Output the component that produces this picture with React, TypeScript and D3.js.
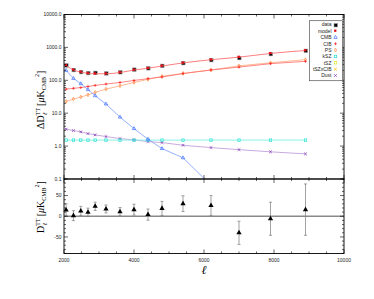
import React from 'react';
import * as d3 from 'd3';

// multipole bin centres
const ells = [2060, 2270, 2480, 2685, 2890, 3200, 3600, 4000, 4400, 4800, 5400, 6200, 7000, 7900, 8900];

// top panel, D_ell in muK^2
const dataVals = [293, 212, 184, 172, 174, 168, 182, 218, 240, 284, 344, 425, 490, 648, 815];
const modelVals = [285, 206, 178, 163, 158, 158, 172, 205, 232, 272, 338, 422, 505, 655, 805];
const cmbVals = [200, 114, 79, 52, 34, 19, 7.6, 3.4, 1.62, 0.84, 0.44, 0.065];
const cibVals = [54, 57, 60, 65, 70, 77, 86, 99, 112, 126, 160, 206, 252, 321, 377];
const psVals = [22.7, 27, 31, 36, 43, 54, 68, 86, 107, 132, 162, 206, 275, 340, 425];
const kszVals = [1.52, 1.52, 1.52, 1.52, 1.52, 1.52, 1.52, 1.52, 1.52, 1.52, 1.52, 1.52, 1.52, 1.52, 1.52];
const dustVals = [3.27, 2.97, 2.71, 2.4, 2.19, 1.95, 1.69, 1.55, 1.37, 1.28, 1.06, 0.9, 0.78, 0.67, 0.58];

// bottom panel residuals
const resVals = [15, 1.5, 12.8, 9.5, 24, 17.7, 11, 16, 4, 19, 30.5, 26, -40, -6, 16];
const resErr = [15, 12, 11, 10, 10, 9.5, 10, 13, 13.5, 17, 19, 24, 28, 40, 62];

const xTickLabels = [2000, 4000, 6000, 8000, 10000];
const yTopLabels = [0.1, 1, 10, 100, 1000, 10000];
const yBotLabels = [-50, 0, 50];
const legendNames = ['data', 'model', 'CMB', 'CIB', 'PS', 'kSZ', 'tSZ', 'tSZxCIB', 'Dust'];

const W = 374, H = 299;
const L = 64, R = 344, T = 14.5, MID = 179, B = 253.5;
const SERIF = '"Liberation Serif", "DejaVu Serif", serif';
const SANS = '"Liberation Sans", Arial, sans-serif';

const colors: Record<string, string> = {
  data: '#000000', model: '#e8101a', CMB: '#3d6fff', CIB: '#ff2a2a', PS: '#ff8a3d',
  kSZ: '#22e0d0', tSZ: '#d8ec2a', tSZxCIB: '#ffc400', Dust: '#8a3fb8'
};
const lineColors: Record<string, string> = {
  model: '#ff7070', CMB: '#7a9dff', CIB: '#ff6a6a', PS: '#ffa878', kSZ: '#70f0e0', Dust: '#b994d8'
};

function Marker({ kind, x, y }: { kind: string; x: number; y: number }) {
  const c = colors[kind];
  switch (kind) {
    case 'data':
      return <rect x={x - 1.5} y={y - 1.3} width={3.6} height={3.6} fill="#000" stroke="#aaa" strokeWidth={0.6} />;
    case 'model':
      return <rect x={x - 1.4} y={y - 1.5} width={2.3} height={2.3} fill={c} />;
    case 'CMB':
      return <path transform={`translate(${x},${y})`} d={d3.symbol(d3.symbolTriangle, 5)()!} fill="none" stroke={c} strokeWidth={0.7} />;
    case 'CIB':
      return <path transform={`translate(${x},${y})`} d="M-1.4,0H1.4M0,-1.4V1.4" stroke={c} strokeWidth={0.8} />;
    case 'PS':
      return <path transform={`translate(${x},${y})`} d={d3.symbol(d3.symbolDiamond, 4)()!} fill="none" stroke={c} strokeWidth={0.7} />;
    case 'kSZ':
    case 'tSZ':
      return <rect x={x - 1.2} y={y - 1.2} width={2.4} height={2.4} fill="none" stroke={c} strokeWidth={0.7} />;
    case 'tSZxCIB':
    case 'Dust':
      return <path transform={`translate(${x},${y})`} d="M-1.3,-1.3L1.3,1.3M-1.3,1.3L1.3,-1.3" stroke={c} strokeWidth={0.8} />;
    default:
      return null;
  }
}

export default function App() {
  const x = d3.scaleLinear().domain([2000, 10000]).range([L, R]);
  const yTop = d3.scaleLog().domain([0.1, 10000]).range([MID, T]);
  const yBot = d3.scaleLinear().domain([-90, 90]).range([B, MID]);

  const line = d3.line<[number, number]>().x(d => x(d[0])).y(d => yTop(d[1]));
  const pts = (vals: number[]) => vals.map((v, i) => [ells[i], v] as [number, number]);

  const series: [string, number[]][] = [
    ['Dust', dustVals], ['kSZ', kszVals], ['PS', psVals], ['CIB', cibVals], ['CMB', cmbVals]
  ];

  // x ticks every 500, major every 2000
  const xTicks = d3.range(2000, 10001, 500);
  // log minor ticks
  const yLogTicks: number[] = [];
  for (let e = -1; e < 4; e++) for (let k = 1; k < 10; k++) yLogTicks.push(k * Math.pow(10, e));
  yLogTicks.push(10000);
  const yBotTicks = d3.range(-90, 91, 10);

  return (
    <div style={{ position: 'absolute', left: 0, top: 0 }}>
      <svg width={W} height={H} style={{ display: 'block', background: '#fff' }}>
        <defs>
          <clipPath id="topclip"><rect x={L} y={T} width={R - L} height={MID - T} /></clipPath>
        </defs>

        {/* top panel curves */}
        <g clipPath="url(#topclip)">
          {series.map(([name, vals]) => (
            <g key={name}>
              <path d={line(pts(vals))!} fill="none" stroke={lineColors[name]} strokeWidth={0.8} />
              {pts(vals).map((p, i) => <Marker key={i} kind={name} x={x(p[0])} y={yTop(p[1])} />)}
            </g>
          ))}
          {pts(dataVals).map((p, i) => <Marker key={'d' + i} kind="data" x={x(p[0])} y={yTop(p[1])} />)}
          <path d={d3.line<[number, number]>().x(d => x(d[0])).y(d => yTop(d[1])).curve(d3.curveMonotoneX)(pts(modelVals))!}
            fill="none" stroke={lineColors.model} strokeWidth={0.9} />
          {pts(modelVals).map((p, i) => <Marker key={'m' + i} kind="model" x={x(p[0])} y={yTop(p[1])} />)}
        </g>

        {/* bottom panel */}
        <line x1={L} x2={R} y1={yBot(0)} y2={yBot(0)} stroke="#8a8a8a" strokeWidth={1.5} />
        {ells.map((e, i) => {
          const cx = x(e);
          const y1 = yBot(resVals[i] + resErr[i]);
          const y2 = yBot(resVals[i] - resErr[i]);
          return (
            <g key={'r' + i} stroke="#7a7a7a" strokeWidth={0.7}>
              <line x1={cx} x2={cx} y1={y1} y2={y2} />
              <line x1={cx - 1.5} x2={cx + 1.5} y1={y1} y2={y1} />
              <line x1={cx - 1.5} x2={cx + 1.5} y1={y2} y2={y2} />
              <path transform={`translate(${cx},${yBot(resVals[i])})`} d={d3.symbol(d3.symbolTriangle, 12)()!} fill="#000" stroke="none" />
            </g>
          );
        })}

        {/* frames */}
        <rect x={L} y={T} width={R - L} height={MID - T} fill="none" stroke="#000" strokeWidth={0.9} />
        <rect x={L} y={MID} width={R - L} height={B - MID} fill="none" stroke="#000" strokeWidth={0.9} />

        {/* ticks on all axes, pointing inward */}
        <g stroke="#000" strokeWidth={0.6}>
          {xTicks.map(t => {
            const len = t % 2000 === 0 ? 4 : 2;
            const px = x(t);
            return (
              <g key={'xt' + t}>
                <line x1={px} x2={px} y1={T} y2={T + len} />
                <line x1={px} x2={px} y1={MID} y2={MID - len} />
                <line x1={px} x2={px} y1={MID} y2={MID + len} />
                <line x1={px} x2={px} y1={B} y2={B - len} />
              </g>
            );
          })}
          {yLogTicks.map(t => {
            const major = Math.abs(Math.log10(t) - Math.round(Math.log10(t))) < 1e-9;
            const len = major ? 4 : 2;
            const py = yTop(t);
            return (
              <g key={'yt' + t}>
                <line x1={L} x2={L + len} y1={py} y2={py} />
                <line x1={R} x2={R - len} y1={py} y2={py} />
              </g>
            );
          })}
          {yBotTicks.map(t => {
            const len = t % 50 === 0 ? 4 : 2;
            const py = yBot(t);
            return (
              <g key={'yb' + t}>
                <line x1={L} x2={L + len} y1={py} y2={py} />
                <line x1={R} x2={R - len} y1={py} y2={py} />
              </g>
            );
          })}
        </g>

        {/* tick labels */}
        <g fontFamily={SANS} fontSize={5} fill="#222">
          {yTopLabels.map(t => (
            <text key={'yl' + t} x={L - 2.5} y={yTop(t)} dy="0.35em" textAnchor="end">{d3.format('.1f')(t)}</text>
          ))}
          {yBotLabels.map(t => (
            <text key={'ybl' + t} x={L - 2.5} y={yBot(t)} dy="0.35em" textAnchor="end">{t}</text>
          ))}
          {xTickLabels.map(t => (
            <text key={'xl' + t} x={x(t)} y={B + 8} textAnchor="middle">{t}</text>
          ))}
        </g>

        {/* axis titles */}
        <text x={x(6000)} y={B + 20} fontFamily={SERIF} fontStyle="italic" fontSize={12} textAnchor="middle">ℓ</text>
        <text transform={`translate(44,${(T + MID) / 2 + 3}) rotate(-90)`} fontFamily={SERIF} fontSize={10} textAnchor="middle">
          ΔD<tspan fontSize={6} dy={-4}>TT</tspan><tspan fontSize={6} dx={-7} dy={7} fontStyle="italic">ℓ</tspan>
          <tspan dy={-3} dx={4}> [</tspan><tspan fontStyle="italic">μ</tspan>K<tspan fontSize={6} dy={2}>CMB</tspan>
          <tspan fontSize={6} dy={-7}>2</tspan><tspan dy={5}>]</tspan>
        </text>
        <text transform={`translate(44,207) rotate(-90)`} fontFamily={SERIF} fontSize={10} textAnchor="middle">
          D<tspan fontSize={6} dy={-4}>TT</tspan><tspan fontSize={6} dx={-7} dy={7} fontStyle="italic">ℓ</tspan>
          <tspan dy={-3} dx={4}> [</tspan><tspan fontStyle="italic">μ</tspan>K<tspan fontSize={6} dy={2}>CMB</tspan>
          <tspan fontSize={6} dy={-7}>2</tspan><tspan dy={5}>]</tspan>
        </text>

        {/* legend */}
        <g>
          <rect x={309.5} y={20.7} width={33} height={60} fill="#fff" stroke="#555" strokeWidth={0.7} />
          {legendNames.map((n, i) => {
            const ly = 24.7 + i * 6.35;
            return (
              <g key={'lg' + n}>
                <text x={331.5} y={ly} dy="0.35em" textAnchor="end" fontFamily={SANS} fontSize={5} fill="#222">{n}</text>
                <Marker kind={n} x={335.5} y={ly} />
              </g>
            );
          })}
        </g>
      </svg>
    </div>
  );
}
